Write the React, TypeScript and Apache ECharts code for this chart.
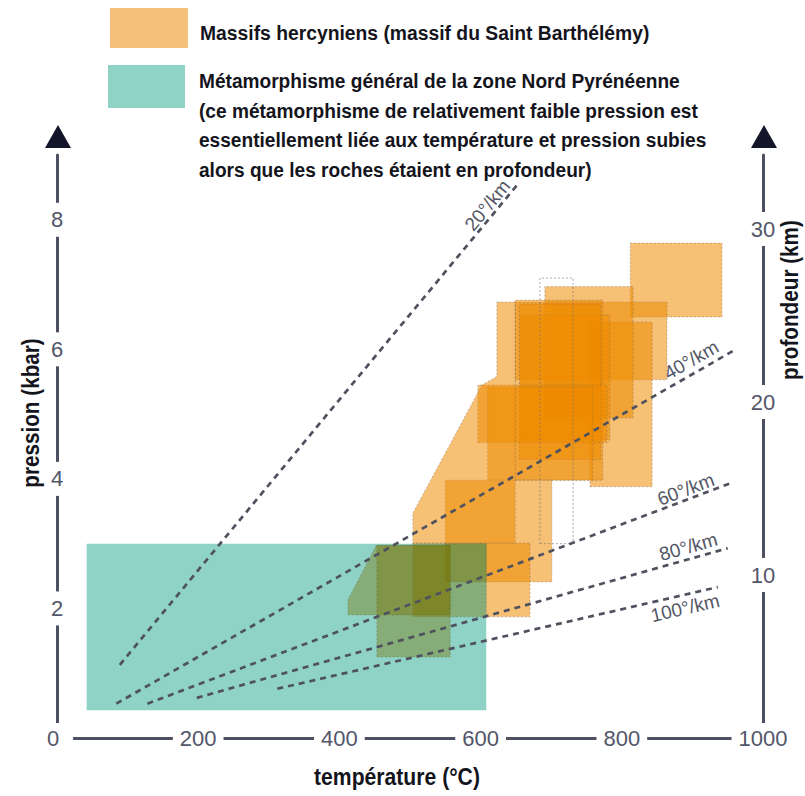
import { useEffect, useRef } from 'react';
import * as echarts from 'echarts';

// ---- axes ----
const temperatureTicks = [0, 200, 400, 600, 800, 1000];
const pressureTicks = [2, 4, 6, 8];
const depthTicks = [10, 20, 30];

// ---- teal field: métamorphisme général zone Nord Pyrénéenne [Tmin, Tmax, Pmin, Pmax] ----
const nordPyreneenBox = [42, 608, 0.43, 3.0];

// ---- orange fields: massifs hercyniens, rectangles [Tmin, Tmax, Pmin, Pmax] ----
const hercynianBoxes = [
  [812, 942, 6.5, 7.64],
  [649, 864, 5.53, 6.73],
  [755, 843, 3.88, 6.42],
  [691, 816, 4.94, 6.97],
  [649, 773, 3.98, 6.76],
  [656, 783, 4.6, 6.53],
  [655, 770, 4.3, 6.7],
  [596, 779, 4.56, 5.45],
  [610, 759, 3.98, 5.42],
  [550, 701, 2.41, 3.98],
  [504, 670, 1.87, 3.01],
  [453, 557, 1.25, 2.98],
];
// orange fields with slanted edges, vertices [T, P]
const hercynianPolygons = [
  [[623, 6.73], [649, 6.73], [649, 3.01], [504, 3.01], [504, 3.47], [602, 5.45], [623, 5.58]],
  [[452, 2.97], [557, 2.97], [557, 1.9], [412, 1.9], [412, 2.13]],
];
// outline-only P-T field (dotted contour inside the cluster)
const hercynianOutlines = [[684, 731, 3.0, 7.1]];

// ---- geotherms ----
const geothermNames = ['20°/km', '40°/km', '60°/km', '80°/km', '100°/km'];
const geothermStart = [[89, 1.13], [84, 0.53], [128, 0.53], [198, 0.62], [312, 0.76]];
const geothermEnd = [[652, 8.54], [960, 5.99], [958, 3.95], [950, 2.93], [936, 2.33]];

// label placement along each geotherm (fraction of length, perpendicular shift px)
const geothermLabelAt = [0.944, 0.94, 0.925, 0.932, 0.919];
const geothermLabelShift = [10, 13, 10, 12, -13];

const NUM_FONT = '"Liberation Sans", Arial, sans-serif';

function boxToPoly(b: number[]) {
  return [[b[0], b[2]], [b[1], b[2]], [b[1], b[3]], [b[0], b[3]]];
}

// Sutherland–Hodgman clip against axis-aligned box [x0,x1,y0,y1]
function clipPoly(poly: number[][], box: number[]) {
  const edges = [
    (p: number[]) => p[0] >= box[0],
    (p: number[]) => p[0] <= box[1],
    (p: number[]) => p[1] >= box[2],
    (p: number[]) => p[1] <= box[3],
  ];
  const inter = (a: number[], b: number[], k: number) => {
    const idx = k < 2 ? 0 : 1;
    const v = box[k];
    const t = (v - a[idx]) / (b[idx] - a[idx]);
    return [a[0] + (b[0] - a[0]) * t, a[1] + (b[1] - a[1]) * t];
  };
  let out = poly;
  for (let k = 0; k < 4; k++) {
    const inp = out;
    out = [];
    if (!inp.length) break;
    for (let i = 0; i < inp.length; i++) {
      const cur = inp[i];
      const prev = inp[(i + inp.length - 1) % inp.length];
      const cIn = edges[k](cur);
      const pIn = edges[k](prev);
      if (cIn) {
        if (!pIn) out.push(inter(prev, cur, k));
        out.push(cur);
      } else if (pIn) {
        out.push(inter(prev, cur, k));
      }
    }
  }
  return out;
}

export default function App() {
  const ref = useRef<HTMLDivElement>(null);

  useEffect(() => {
    if (!ref.current) return;
    const chart = echarts.init(ref.current, undefined, { renderer: 'svg' });

    const fields = [...hercynianBoxes.map(boxToPoly), ...hercynianPolygons];
    const outlines = hercynianOutlines.map(boxToPoly);
    const olive = fields
      .map((f) => clipPoly(f, nordPyreneenBox))
      .filter((c) => c.length >= 3);

    const numLabel = {
      fontSize: 22,
      color: '#53566a',
      fontFamily: NUM_FONT,
      backgroundColor: '#fff',
    };

    const boldText = (text: string, fontSize: number, extra: any) => ({
      type: 'text',
      ...extra,
      style: {
        text,
        fill: '#14141c',
        fontSize,
        fontWeight: 'bold',
        fontFamily: NUM_FONT,
        ...(extra.style || {}),
      },
    });

    const axisLineStyle = { color: '#4d5060', width: 3 };

    const polySeries = (name: string, polys: number[][][], style: any) => ({
      type: 'custom',
      name,
      data: polys.map((f) => [f[0][0], f[0][1]]),
      renderItem: (params: any, api: any) => ({
        type: 'polygon',
        shape: { points: polys[params.dataIndex].map((p) => api.coord(p)) },
        style,
      }),
    });

    chart.setOption({
      animation: false,
      grid: { left: 57, right: 42, top: 155, bottom: 58, containLabel: false },
      xAxis: {
        type: 'value',
        min: 0,
        max: 1000,
        interval: 200,
        z: 4,
        axisLine: { show: true, onZero: false, lineStyle: axisLineStyle },
        axisTick: { show: false },
        splitLine: { show: false },
        axisLabel: {
          margin: 0,
          align: 'center',
          verticalAlign: 'middle',
          customValues: temperatureTicks,
          formatter: (v: number) => (v === 0 ? '{z|0}' : '{n|' + v + '}'),
          rich: {
            z: { ...numLabel, padding: [4, 14, 4, 6] },
            n: { ...numLabel, padding: [4, 7, 4, 7] },
          },
        },
      },
      yAxis: [
        {
          type: 'value',
          min: 0,
          max: 9,
          interval: 2,
          position: 'left',
          z: 3,
          axisLine: { show: true, onZero: false, lineStyle: axisLineStyle },
          axisTick: { show: false },
          splitLine: { show: false },
          axisLabel: {
            customValues: pressureTicks,
            margin: 0,
            align: 'center',
            verticalAlign: 'middle',
            ...numLabel,
            padding: [6, 4, 6, 4],
          },
        },
        {
          type: 'value',
          min: 0.58,
          max: 34.28,
          position: 'right',
          z: 3,
          axisLine: { show: true, onZero: false, lineStyle: axisLineStyle },
          axisTick: { show: false },
          splitLine: { show: false },
          axisLabel: {
            customValues: depthTicks,
            margin: 0,
            align: 'center',
            verticalAlign: 'middle',
            ...numLabel,
            padding: [6, 4, 6, 4],
          },
        },
      ],
      graphic: [
        // axis arrows
        { type: 'polygon', shape: { points: [[58, 125], [45, 148], [71, 148]] }, style: { fill: '#15152a' } },
        { type: 'polygon', shape: { points: [[764, 125], [751, 148], [777, 148]] }, style: { fill: '#15152a' } },
        // legend
        { type: 'rect', shape: { x: 110, y: 8, width: 78, height: 40 }, style: { fill: '#f4c07a' } },
        boldText('Massifs hercyniens (massif du Saint Barthélémy)', 21, {
          x: 200,
          y: 33,
          scaleX: 0.92,
          style: { verticalAlign: 'middle' },
        }),
        { type: 'rect', shape: { x: 108, y: 65, width: 77, height: 43 }, style: { fill: '#8fd3c7' } },
        boldText(
          'Métamorphisme général de la zone Nord Pyrénéenne\n(ce métamorphisme de relativement faible pression est\nessentiellement liée aux température et pression subies\nalors que les roches étaient en profondeur)',
          21,
          { x: 199, y: 66, scaleX: 0.91, style: { lineHeight: 29.5, verticalAlign: 'top' } }
        ),
        // axis titles
        boldText('pression (kbar)', 23, {
          x: 31,
          y: 413,
          rotation: Math.PI / 2,
          scaleX: 0.9,
          style: { align: 'center', verticalAlign: 'middle' },
        }),
        boldText('profondeur (km)', 23, {
          x: 790,
          y: 300,
          rotation: Math.PI / 2,
          scaleX: 0.9,
          style: { align: 'center', verticalAlign: 'middle' },
        }),
        boldText('température (°C)', 23, {
          x: 397,
          y: 777,
          scaleX: 0.92,
          style: { align: 'center', verticalAlign: 'middle' },
        }),
      ],
      series: [
        polySeries('Massifs hercyniens', fields, {
          fill: 'rgba(238,138,0,0.54)',
          stroke: 'rgba(120,105,90,0.5)',
          lineWidth: 0.8,
          lineDash: [2, 2],
        }),
        polySeries('contours', outlines, {
          fill: 'none',
          stroke: 'rgba(110,110,120,0.6)',
          lineWidth: 1,
          lineDash: [2, 2],
        }),
        {
          type: 'custom',
          name: 'Zone Nord Pyrénéenne',
          data: [[nordPyreneenBox[0], nordPyreneenBox[2]]],
          renderItem: (_params: any, api: any) => {
            const a = api.coord([nordPyreneenBox[0], nordPyreneenBox[3]]);
            const b = api.coord([nordPyreneenBox[1], nordPyreneenBox[2]]);
            return {
              type: 'rect',
              shape: { x: a[0], y: a[1], width: b[0] - a[0], height: b[1] - a[1] },
              style: { fill: '#8fd3c7' },
            };
          },
        },
        polySeries('overlap', olive, {
          fill: 'rgba(120,115,0,0.4)',
          stroke: 'rgba(90,95,60,0.4)',
          lineWidth: 0.8,
          lineDash: [2, 2],
        }),
        {
          type: 'custom',
          name: 'géothermes',
          data: geothermStart.map((p) => [p[0], p[1]]),
          renderItem: (params: any, api: any) => {
            const i = params.dataIndex;
            const a = api.coord(geothermStart[i]);
            const b = api.coord(geothermEnd[i]);
            const dx = b[0] - a[0];
            const dy = b[1] - a[1];
            const L = Math.hypot(dx, dy);
            const nx = dy / L;
            const ny = -dx / L;
            const f = geothermLabelAt[i];
            const d = geothermLabelShift[i];
            const cx = a[0] + dx * f + nx * d;
            const cy = a[1] + dy * f + ny * d;
            return {
              type: 'group',
              children: [
                {
                  type: 'line',
                  shape: { x1: a[0], y1: a[1], x2: b[0], y2: b[1] },
                  style: { stroke: '#4f525e', lineWidth: 2.7, lineDash: [6, 5] },
                },
                {
                  type: 'text',
                  x: cx,
                  y: cy,
                  rotation: Math.atan2(-dy, dx),
                  style: {
                    text: geothermNames[i],
                    fill: '#535665',
                    fontSize: 19,
                    fontFamily: NUM_FONT,
                    align: 'center',
                    verticalAlign: 'middle',
                  },
                },
              ],
            };
          },
        },
      ],
    });

    return () => chart.dispose();
  }, []);

  return (
    <div
      ref={ref}
      style={{ position: 'fixed', left: 0, top: 0, width: 805, height: 796, background: '#fff' }}
    />
  );
}
